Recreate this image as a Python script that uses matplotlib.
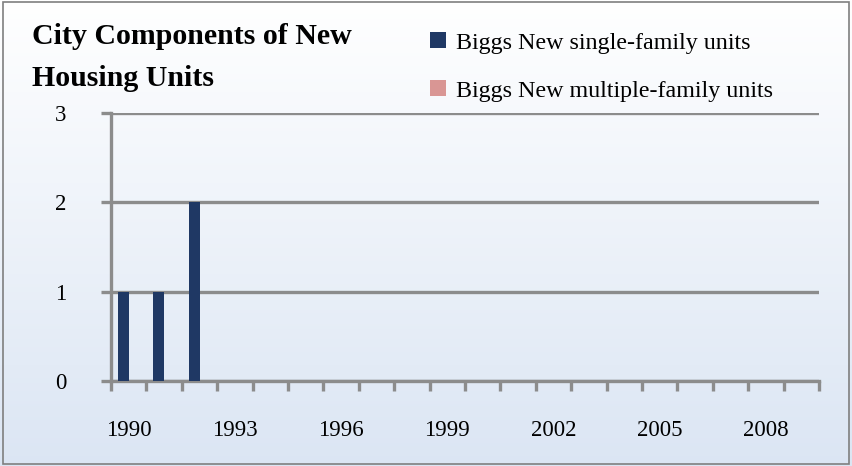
import numpy as np
import matplotlib.pyplot as plt
from matplotlib.patches import Rectangle
from matplotlib.patches import Patch

years = list(range(1990, 2010))
single_family = [1, 1, 2] + [0] * 17
multi_family = [0] * 20
tick_years = [1990, 1993, 1996, 1999, 2002, 2005, 2008]

navy = "#1f3864"
pink = "#d99694"
grid_grey = "#8c8c8c"
serif = ["Liberation Serif", "DejaVu Serif"]

fig = plt.figure(figsize=(8.52, 4.66), dpi=100)

# gradient backdrop
bg = fig.add_axes([0, 0, 1, 1], zorder=-10)
grad = np.linspace(0, 1, 256).reshape(-1, 1)
top = np.array([1.0, 1.0, 1.0])
bottom = np.array([0.86, 0.9, 0.955])
img = top + (bottom - top) * grad[..., None]
img = img.reshape(256, 1, 3)
bg.imshow(img, aspect="auto", extent=[0, 1, 0, 1], origin="upper")
bg.set_axis_off()
fig.patches.append(Rectangle((0.003, 0.005), 0.993, 0.99, transform=fig.transFigure,
                             fill=False, edgecolor="#7f7f7f", linewidth=1.2))

ax = fig.add_axes([0.1303, 0.1824, 0.8310, 0.5751])
ax.patch.set_alpha(0)

x = np.arange(len(years))
w = 0.3
ax.bar(x - w / 2, single_family, width=w, color=navy, zorder=3)
ax.bar(x + w / 2, multi_family, width=w, color=pink, zorder=3)

ax.set_xlim(-0.5, len(years) - 0.5)
ax.set_ylim(0, 3)
ax.set_yticks([0, 1, 2, 3])
ax.set_yticklabels(["0", "1", "2", "3"], fontfamily=serif, fontsize=16.5)
ax.yaxis.grid(True, color=grid_grey, linewidth=2.4, zorder=0)

ax.set_xticks(np.arange(len(years) + 1) - 0.5, minor=False)
ax.set_xticklabels([])
ax.set_xticks([years.index(y) for y in tick_years], minor=True)
ax.set_xticklabels([str(y) for y in tick_years], minor=True, fontfamily=serif, fontsize=16.5)
ax.tick_params(axis="x", which="major", length=7, width=2.4, color=grid_grey, direction="out")
ax.tick_params(axis="x", which="minor", length=0, pad=28)
ax.tick_params(axis="y", length=7, width=2.4, color=grid_grey, pad=25)

for side in ["top", "right"]:
    ax.spines[side].set_visible(False)
for side in ["left", "bottom"]:
    ax.spines[side].set_color(grid_grey)
    ax.spines[side].set_linewidth(2.4)

fig.text(0.038, 0.922, "City Components of New", fontfamily=serif, fontweight="bold",
         fontsize=21.5, va="center", ha="left")
fig.text(0.038, 0.832, "Housing Units", fontfamily=serif, fontweight="bold",
         fontsize=21.5, va="center", ha="left")

handles = [Patch(facecolor=navy), Patch(facecolor=pink)]
labels = ["Biggs New single-family units", "Biggs New multiple-family units"]
leg = fig.legend(handles, labels, loc="upper left", bbox_to_anchor=(0.479, 0.978),
                 frameon=False, prop={"family": serif, "size": 17.3},
                 handlelength=0.68, handleheight=0.68, handletextpad=0.42, labelspacing=1.1)

fig.savefig("out.png", dpi=100)
